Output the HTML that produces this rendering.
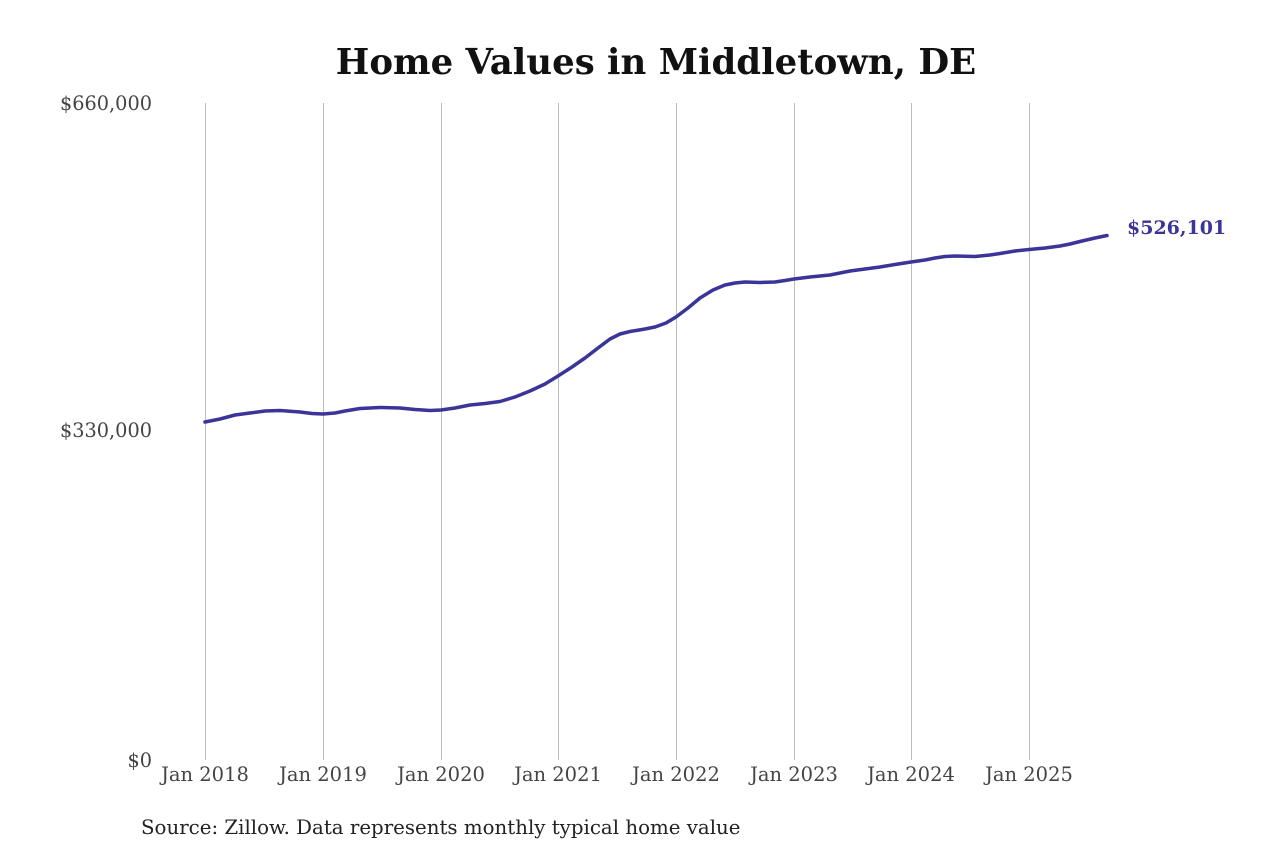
<!DOCTYPE html>
<html><head><meta charset="utf-8"><style>
html,body{margin:0;padding:0;background:#fff;}
</style></head><body>
<svg width="1280" height="853" viewBox="0 0 1280 853" xmlns="http://www.w3.org/2000/svg" font-family="'DejaVu Serif','Liberation Serif',serif">
<text x="656" y="74" text-anchor="middle" font-size="35.5" font-weight="bold" fill="#111">Home Values in Middletown, DE</text>
<g stroke="#bdbdbd" stroke-width="1">
<line x1="205.5" y1="103" x2="205.5" y2="760"/>
<line x1="323.5" y1="103" x2="323.5" y2="760"/>
<line x1="441.5" y1="103" x2="441.5" y2="760"/>
<line x1="558.5" y1="103" x2="558.5" y2="760"/>
<line x1="676.5" y1="103" x2="676.5" y2="760"/>
<line x1="794.5" y1="103" x2="794.5" y2="760"/>
<line x1="911.5" y1="103" x2="911.5" y2="760"/>
<line x1="1029.5" y1="103" x2="1029.5" y2="760"/>
</g>
<g font-size="19.3" fill="#444" text-anchor="end">
<text x="152" y="110">$660,000</text>
<text x="152" y="437">$330,000</text>
<text x="152" y="767">$0</text>
</g>
<g font-size="19.5" fill="#444" text-anchor="middle">
<text x="205" y="781">Jan 2018</text>
<text x="323" y="781">Jan 2019</text>
<text x="441" y="781">Jan 2020</text>
<text x="558" y="781">Jan 2021</text>
<text x="676" y="781">Jan 2022</text>
<text x="794" y="781">Jan 2023</text>
<text x="911" y="781">Jan 2024</text>
<text x="1029" y="781">Jan 2025</text>
</g>
<polyline fill="none" stroke="#3b3599" stroke-width="3.5" stroke-linejoin="round" stroke-linecap="round"
points="205,422 220,419 235,415 250,413 265,411 280,410.5 300,412 312,413.5 323,414 335,413 345,411 360,408.5 380,407.5 400,408 415,409.5 430,410.5 441,410 455,408 470,405 485,403.5 500,401.5 515,397 530,391 545,384 558,376 572,367 585,358 598,348 610,339 620,334 630,331.5 645,329 655,327 666,323 676,317 688,308 700,298 713,290 725,285 735,283 745,282 760,282.5 775,282 785,280.5 794,279 810,277 830,275 840,273 850,271 865,269 880,267 895,264.5 911,262 925,260 935,258 945,256.5 955,256 975,256.5 990,255 1000,253.5 1015,251 1029,249.5 1045,248 1060,246 1070,244 1080,241.5 1095,238 1107,235.5"/>
<text x="1127" y="234" font-size="19" font-weight="bold" fill="#3b3599">$526,101</text>
<text x="141" y="834" font-size="19.8" fill="#222">Source: Zillow. Data represents monthly typical home value</text>
</svg>
</body></html>
